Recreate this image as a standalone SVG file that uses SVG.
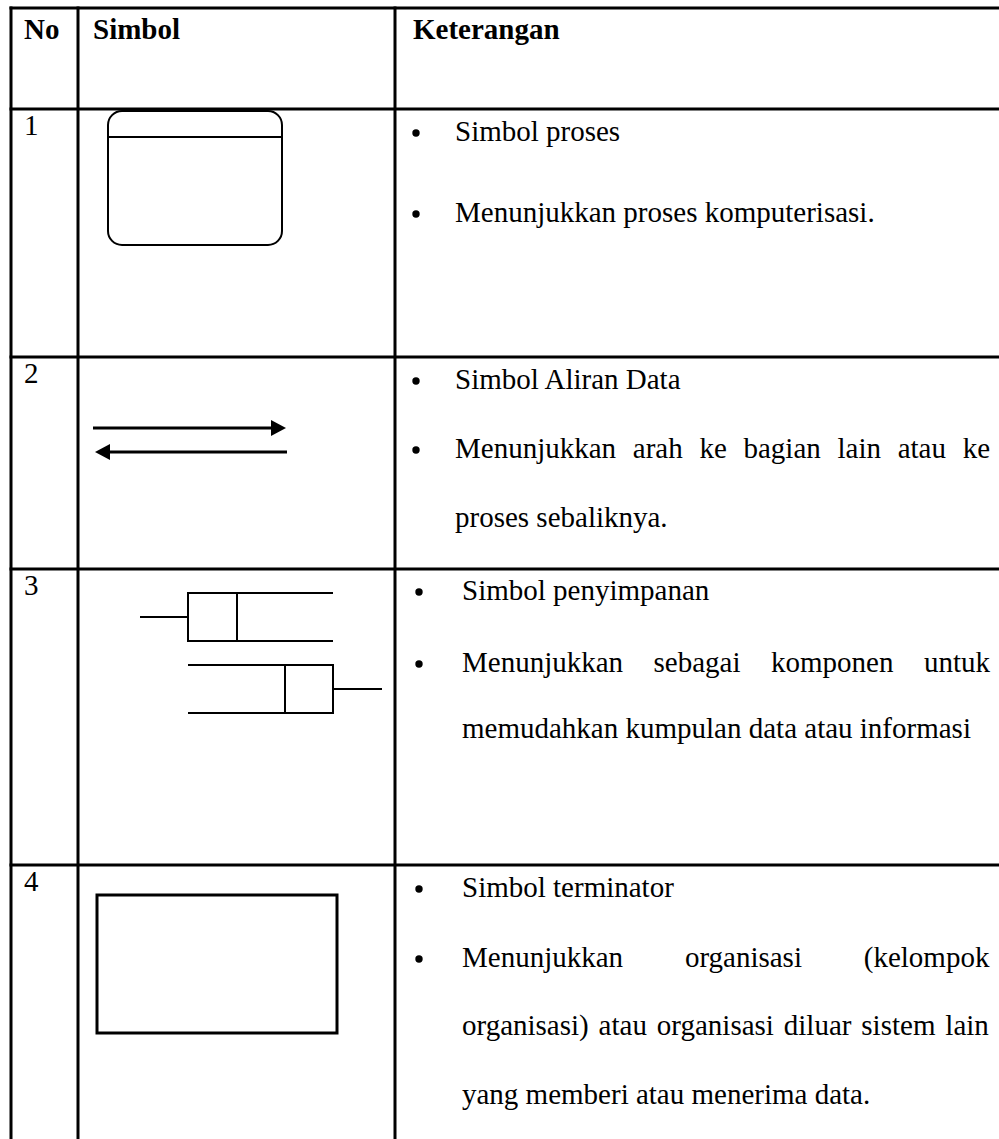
<svg xmlns="http://www.w3.org/2000/svg" width="999" height="1139" viewBox="0 0 999 1139">
<style>
.t{font-family:"Liberation Serif","Times New Roman",serif;font-size:29px;fill:#000}
.b{font-weight:bold}
.grid{stroke:#000;stroke-width:3;fill:none}
.sym{stroke:#000;stroke-width:2;fill:none}
.sym3{stroke:#000;stroke-width:3;fill:none}
.flow{stroke:#000;stroke-width:3;fill:none}
</style>
<defs>
<marker id="ah" markerWidth="16" markerHeight="16" refX="5" refY="8" orient="auto" markerUnits="userSpaceOnUse">
<path d="M0,0 L15,8 L0,16 z" fill="#000"/>
</marker>
</defs>
<rect width="999" height="1139" fill="#fff"/>
<g id="grid" class="grid">
<line x1="9.5" y1="8" x2="999" y2="8"/>
<line x1="9.5" y1="109" x2="999" y2="109"/>
<line x1="9.5" y1="357" x2="999" y2="357"/>
<line x1="9.5" y1="569" x2="999" y2="569"/>
<line x1="9.5" y1="865" x2="999" y2="865"/>
<line x1="11" y1="6.5" x2="11" y2="1139"/>
<line x1="78" y1="6.5" x2="78" y2="1139"/>
<line x1="395" y1="6.5" x2="395" y2="1139"/>
</g>
<g id="header">
<text class="t b" x="24" y="39">No</text>
<text class="t b" x="93" y="39">Simbol</text>
<text class="t b" x="413" y="39">Keterangan</text>
</g>
<g id="row1">
<text class="t" x="24" y="135">1</text>
<rect class="sym" x="108" y="111" width="174" height="134" rx="14"/>
<line class="sym" x1="108" y1="137" x2="282" y2="137"/>
<circle cx="416" cy="133" r="3.7"/>
<text class="t" x="455" y="141">Simbol proses</text>
<circle cx="416" cy="214" r="3.7"/>
<text class="t" x="455" y="222">Menunjukkan proses komputerisasi.</text>
</g>
<g id="row2">
<text class="t" x="24" y="383">2</text>
<circle cx="416" cy="381" r="3.7"/>
<text class="t" x="455" y="389">Simbol Aliran Data</text>
<circle cx="416" cy="450" r="3.7"/>
<text class="t" x="455" y="458" style="word-spacing:9.45px">Menunjukkan arah ke bagian lain atau ke</text>
<text class="t" x="455" y="527">proses sebaliknya.</text>
</g>
<g id="connectors">
<line class="flow" x1="93" y1="428" x2="276" y2="428" marker-end="url(#ah)"/>
<line class="flow" x1="287" y1="452" x2="105" y2="452" marker-end="url(#ah)"/>
</g>
<g id="row3">
<text class="t" x="24" y="595">3</text>
<g class="sym">
<line x1="140" y1="617" x2="188" y2="617"/>
<rect x="188" y="593" width="49" height="48"/>
<line x1="237" y1="593" x2="333" y2="593"/>
<line x1="237" y1="641" x2="333" y2="641"/>
<line x1="188" y1="665" x2="285" y2="665"/>
<line x1="188" y1="713" x2="285" y2="713"/>
<rect x="285" y="665" width="48" height="48"/>
<line x1="333" y1="689" x2="382" y2="689"/>
</g>
<circle cx="419" cy="592" r="3.7"/>
<text class="t" x="462" y="600">Simbol penyimpanan</text>
<circle cx="419" cy="664" r="3.7"/>
<text class="t" x="462" y="672" style="word-spacing:23.25px">Menunjukkan sebagai komponen untuk</text>
<text class="t" x="462" y="738">memudahkan kumpulan data atau informasi</text>
</g>
<g id="row4">
<text class="t" x="24" y="891">4</text>
<rect class="sym3" x="97" y="895" width="240" height="138"/>
<circle cx="419" cy="889" r="3.7"/>
<text class="t" x="462" y="897">Simbol terminator</text>
<circle cx="419" cy="959" r="3.7"/>
<text class="t" x="462" y="967" style="word-spacing:54.55px">Menunjukkan organisasi (kelompok</text>
<text class="t" x="462" y="1035" style="word-spacing:2.65px">organisasi) atau organisasi diluar sistem lain</text>
<text class="t" x="462" y="1104">yang memberi atau menerima data.</text>
</g>
</svg>
